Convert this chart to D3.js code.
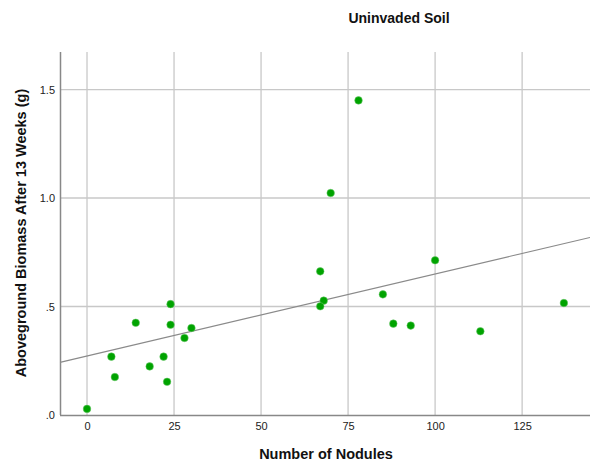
<!DOCTYPE html>
<html>
<head>
    <meta charset="utf-8">
    <style>
        body { margin: 0; background: #fff; }
        svg { display: block; font-family: "Liberation Sans", Arial, sans-serif; }
    </style>
</head>
<body>
    <svg width="590" height="463"></svg>

    <script src="https://cdn.jsdelivr.net/npm/d3@7"></script>
    <script>

    // data
    var nodules = [0, 7, 8, 14, 18, 22, 23, 24, 24, 28, 30, 67, 68, 67, 70, 78, 85, 88, 93, 100, 113, 137];
    var biomass = [0.028, 0.269, 0.175, 0.425, 0.224, 0.269, 0.153, 0.511, 0.416, 0.355, 0.401,
                   0.662, 0.527, 0.501, 1.023, 1.450, 0.556, 0.421, 0.412, 0.713, 0.386, 0.516];
    var xTicks = [0, 25, 50, 75, 100, 125];
    var yTicks = [0, 0.5, 1.0, 1.5];
    var yTickLabels = [".0", ".5", "1.0", "1.5"];
    var fitIntercept = 0.272,
        fitSlope = 0.00378;

    var svg = d3.select("svg"),
        plotLeft = 60, plotRight = 590, plotTop = 52, plotBottom = 415;

    var x = d3.scaleLinear().domain([-7.76, 144.5]).range([plotLeft, plotRight]),
        y = d3.scaleLinear().domain([0, 1.673]).range([plotBottom, plotTop]);

    // grid
    svg.append("g").selectAll("line")
        .data(xTicks)
        .enter().append("line")
        .attr("x1", function(d) { return x(d); })
        .attr("x2", function(d) { return x(d); })
        .attr("y1", plotTop).attr("y2", plotBottom)
        .attr("stroke", "#c8c8c8").attr("stroke-width", 1.3);

    svg.append("g").selectAll("line")
        .data(yTicks.slice(1))
        .enter().append("line")
        .attr("x1", plotLeft).attr("x2", plotRight)
        .attr("y1", function(d) { return y(d); })
        .attr("y2", function(d) { return y(d); })
        .attr("stroke", "#c8c8c8").attr("stroke-width", 1.3);

    // axes
    var xAxis = d3.axisBottom(x).tickValues(xTicks).tickSize(0).tickPadding(7),
        yAxis = d3.axisLeft(y).tickValues(yTicks).tickSize(0).tickPadding(5)
            .tickFormat(function(d, i) { return yTickLabels[i]; });

    var gx = svg.append("g")
        .attr("transform", "translate(0," + plotBottom + ")")
        .call(xAxis);
    gx.select(".domain").attr("d", "M" + plotLeft + ",0.5H" + plotRight);

    var gy = svg.append("g")
        .attr("transform", "translate(" + plotLeft + ",0)")
        .call(yAxis);
    gy.select(".domain").attr("d", "M0.5," + plotTop + "V" + plotBottom);

    svg.selectAll(".domain").attr("stroke", "#888").attr("stroke-width", 1.5);
    svg.selectAll(".tick text")
        .attr("fill", "#222")
        .style("font-size", "11px")
        .style("font-family", "'Liberation Sans', Arial, sans-serif");

    // fit line
    var xd = x.domain();
    svg.append("line")
        .attr("x1", x(xd[0])).attr("y1", y(fitIntercept + fitSlope * xd[0]))
        .attr("x2", x(xd[1])).attr("y2", y(fitIntercept + fitSlope * xd[1]))
        .attr("stroke", "#8a8a8a").attr("stroke-width", 1.1);

    // points
    svg.append("g").selectAll("circle")
        .data(nodules)
        .enter().append("circle")
        .attr("cx", function(d) { return x(d); })
        .attr("cy", function(d, i) { return y(biomass[i]); })
        .attr("r", 3.8)
        .attr("fill", "#00a300")
        .attr("stroke", "#6cc86c").attr("stroke-width", 0.5);

    // titles
    svg.append("text")
        .attr("x", 399).attr("y", 23)
        .attr("text-anchor", "middle")
        .style("font-size", "14px").style("font-weight", "bold")
        .attr("fill", "#111")
        .text("Uninvaded Soil");

    svg.append("text")
        .attr("x", 326).attr("y", 459)
        .attr("text-anchor", "middle")
        .style("font-size", "14.5px").style("font-weight", "bold")
        .attr("fill", "#111")
        .text("Number of Nodules");

    svg.append("text")
        .attr("transform", "translate(26,233) rotate(-90)")
        .attr("text-anchor", "middle")
        .style("font-size", "14.5px").style("font-weight", "bold")
        .attr("fill", "#111")
        .text("Aboveground Biomass After 13 Weeks (g)");

    </script>
</body>
</html>
